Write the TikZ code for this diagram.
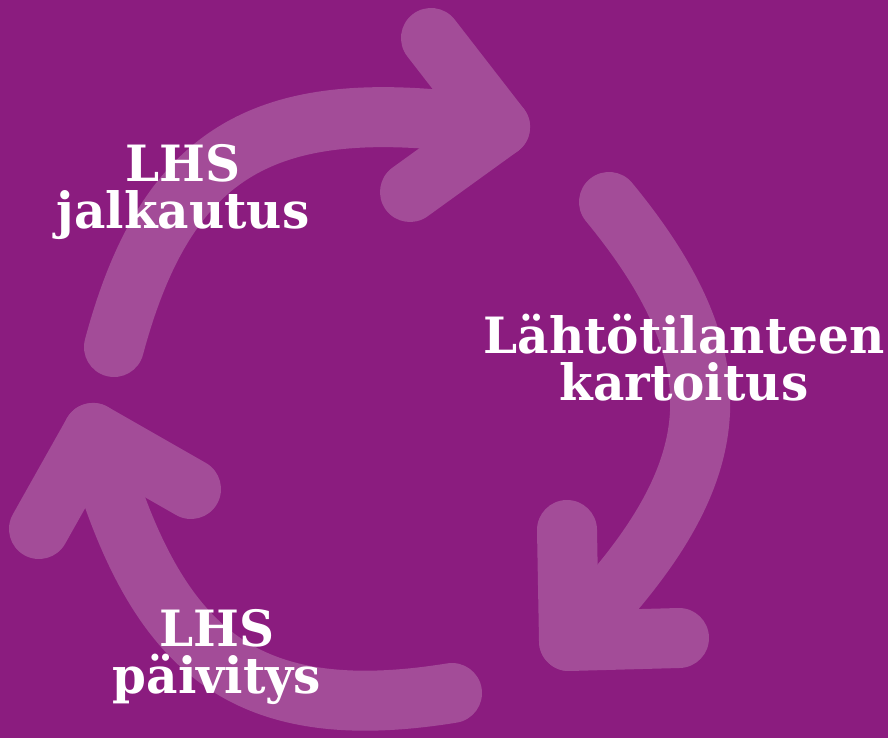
\documentclass[tikz,border=0pt]{standalone}
\usepackage{fontspec}
\setmainfont[FakeStretch=0.97]{DejaVu Serif}
\usepackage{xcolor}
\usetikzlibrary{positioning}
\definecolor{bgpurple}{RGB}{139,28,127}
\definecolor{arrowpurple}{RGB}{163,76,152}

\begin{document}
\begin{tikzpicture}[
    x=1pt, y=-1pt,
    phase/.style={
        text=white,
        align=center,
        anchor=base,
        inner sep=0pt,
        font=\fontsize{50}{47}\selectfont\bfseries
    },
    cyclearrow/.style={
        draw=arrowpurple,
        line width=60pt,
        line cap=round,
        line join=round
    }
]

\fill[bgpurple] (0,0) rectangle (888,738);
\useasboundingbox (0,0) rectangle (888,738);

% top left arrow
\coordinate (s1) at (114,347);
\coordinate (v1) at (500,127);
\draw[cyclearrow] (s1) .. controls (171,134) and (282,95) .. (v1);
\draw[cyclearrow] (431,38) -- (v1) -- (410,192);

% right arrow
\coordinate (s2) at (609,202);
\coordinate (v2) at (569,641);
\draw[cyclearrow] (s2) .. controls (748,371) and (723,483) .. (v2);
\draw[cyclearrow] (567,530) -- (v2) -- (679,638);

% bottom left arrow
\coordinate (s3) at (452,693);
\coordinate (v3) at (93,433);
\draw[cyclearrow] (s3) .. controls (235,728) and (152,644) .. (v3);
\draw[cyclearrow] (39,529) -- (v3) -- (191,489);

\node[phase] (jalkautus) at (183,228) {LHS\\jalkautus};
\node[phase] (kartoitus) at (684,400) {Lähtötilanteen\\kartoitus};
\node[phase] (paivitys) at (217,693) {LHS\\päivitys};

\end{tikzpicture}
\end{document}
